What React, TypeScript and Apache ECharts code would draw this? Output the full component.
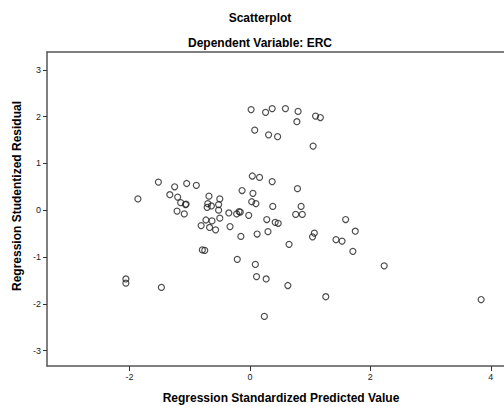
import React, { useEffect, useRef } from "react";
import * as echarts from "echarts";

const predicted: number[] = [
  0.02, 0.26, 0.37, 0.59, 0.8, 0.78, 1.09, 1.17, 0.08, 0.31, 0.46, 1.05,
  -1.52, -1.25, -1.05, -0.89, -1.86, -1.33, -1.2, -1.15, -1.06, -1.07, -1.21, -1.09,
  -0.68, -0.5, -0.7, -0.71, -0.64, -0.52, -0.52, -0.5, -0.73, -0.63, -0.81, -0.67,
  -0.57, -0.35, -0.33, -0.22, -0.16, -0.18, -0.13, -0.02, -0.15, 0.04, 0.16, 0.37,
  0.05, 0.03, 0.1, 0.38, 0.79, 0.85, 0.76, 0.87, 0.28, 0.42, 0.47, 0.12,
  0.3, 0.65, 1.07, 1.04, 1.59, 1.75, 1.43, 1.53, 1.71, 2.23, -0.79, -0.75,
  -0.21, 0.09, 0.11, 0.27, 0.63, 1.26, 0.24, 3.84, -2.06, -2.06, -1.47,
];
const residual: number[] = [
  2.15, 2.09, 2.17, 2.17, 2.11, 1.89, 2.01, 1.98, 1.71, 1.61, 1.57, 1.37,
  0.6, 0.5, 0.57, 0.53, 0.24, 0.33, 0.28, 0.16, 0.13, 0.12, -0.02, -0.08,
  0.3, 0.24, 0.14, 0.06, 0.09, 0.12, 0.0, -0.17, -0.21, -0.23, -0.33, -0.37,
  -0.42, -0.06, -0.35, -0.08, -0.04, -0.03, 0.42, -0.11, -0.56, 0.73, 0.7, 0.61,
  0.36, 0.18, 0.14, 0.08, 0.46, 0.08, -0.09, -0.09, -0.2, -0.26, -0.28, -0.51,
  -0.46, -0.73, -0.49, -0.57, -0.2, -0.45, -0.63, -0.66, -0.88, -1.19, -0.85, -0.86,
  -1.05, -1.16, -1.42, -1.47, -1.61, -1.85, -2.27, -1.91, -1.47, -1.56, -1.65,
];
const xTicks: number[] = [-2, 0, 2, 4];
const yTicks: number[] = [-3, -2, -1, 0, 1, 2, 3];

const titleText = "Scatterplot";
const subtitleText = "Dependent Variable: ERC";
const xName = "Regression Standardized Predicted Value";
const yName = "Regression Studentized Residual";

export default function App() {
  const ref = useRef<HTMLDivElement>(null);
  useEffect(() => {
    if (!ref.current) return;
    const chart = echarts.init(ref.current, undefined, { renderer: "svg" });
    const font = "Arial, 'Liberation Sans', sans-serif";
    const data = predicted.map((x, i) => [x, residual[i]]);
    const centered = (text: string, x: number, y: number, rotation = 0) => ({
      type: "text",
      x,
      y,
      rotation,
      style: {
        text,
        font: `bold 12px ${font}`,
        fill: "#000000",
        align: "center",
        verticalAlign: "middle",
      },
    });
    const lineStyle = { color: "#555555", width: 1.5 };
    chart.setOption({
      animation: false,
      backgroundColor: "#ffffff",
      textStyle: { fontFamily: font },
      grid: {
        left: 47,
        top: 52,
        bottom: 40,
        right: 0,
        show: false,
      },
      xAxis: [
        {
          type: "value",
          min: -3.37,
          max: 4.22,
          splitLine: { show: false },
          axisLine: { show: true, onZero: false, lineStyle },
          axisTick: {
            show: true,
            customValues: xTicks,
            length: 5,
            lineStyle: { color: "#333333", width: 1 },
          },
          axisLabel: {
            customValues: xTicks,
            color: "#222222",
            fontSize: 9,
            fontFamily: font,
            margin: 6,
          },
        },
        {
          type: "value",
          position: "top",
          min: -3.37,
          max: 4.22,
          splitLine: { show: false },
          axisLine: { show: true, onZero: false, lineStyle },
          axisTick: { show: false },
          axisLabel: { show: false },
        },
      ],
      yAxis: {
        type: "value",
        min: -3.33,
        max: 3.38,
        splitLine: { show: false },
        axisLine: { show: true, onZero: false, lineStyle },
        axisTick: {
          show: true,
          customValues: yTicks,
          length: 4,
          lineStyle: { color: "#333333", width: 1 },
        },
        axisLabel: {
          customValues: yTicks,
          color: "#222222",
          fontSize: 9,
          fontFamily: font,
          margin: 6,
        },
      },
      graphic: [
        centered(titleText, 260, 18),
        centered(subtitleText, 260, 43),
        centered(xName, 281, 398),
        centered(yName, 17, 196, Math.PI / 2),
      ],
      series: [
        {
          type: "scatter",
          xAxisIndex: 0,
          data,
          symbol: "circle",
          symbolSize: 6,
          itemStyle: {
            color: "rgba(255,255,255,0)",
            borderColor: "#222222",
            borderWidth: 1.2,
          },
          emphasis: { disabled: true },
        },
      ],
    });
    return () => chart.dispose();
  }, []);
  return (
    <div
      ref={ref}
      style={{ position: "fixed", left: 0, top: 0, width: 504, height: 406 }}
    />
  );
}
